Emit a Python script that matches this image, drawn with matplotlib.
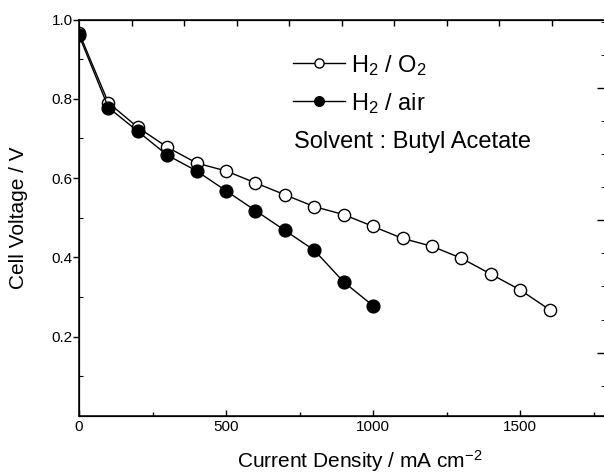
import matplotlib
matplotlib.use("Agg")
import matplotlib.pyplot as plt
from matplotlib.ticker import FixedLocator, NullFormatter

plt.rcParams["font.family"] = ["Liberation Sans", "DejaVu Sans"]
plt.rcParams["mathtext.fontset"] = "custom"
plt.rcParams["mathtext.rm"] = "Liberation Sans"
plt.rcParams["mathtext.it"] = "Liberation Sans:italic"
plt.rcParams["mathtext.bf"] = "Liberation Sans:bold"

# current density (mA cm-2) and cell voltage (V)
current_o2 = [0, 100, 200, 300, 400, 500, 600, 700, 800, 900, 1000,
              1100, 1200, 1300, 1400, 1500, 1600]
voltage_o2 = [0.967, 0.79, 0.728, 0.678, 0.638, 0.618, 0.588, 0.558, 0.528,
              0.508, 0.478, 0.448, 0.428, 0.398, 0.358, 0.318, 0.268]
current_air = [0, 100, 200, 300, 400, 500, 600, 700, 800, 900, 1000]
voltage_air = [0.96, 0.778, 0.718, 0.658, 0.618, 0.568, 0.518, 0.468,
               0.418, 0.338, 0.278]

x_major = [0, 500, 1000, 1500]
x_minor = [250, 750, 1250, 1750]
y_major = [0.2, 0.4, 0.6, 0.8, 1.0]
y_minor = [0.1, 0.3, 0.5, 0.7, 0.9]

fig = plt.figure(figsize=(6.04, 4.75), dpi=100)
ax = fig.add_axes([79 / 604, 59 / 475, 525 / 604, 396.5 / 475])

ax.plot(current_o2, voltage_o2, "-o", color="black", lw=1.0, ms=8.8,
        mfc="white", mec="black", mew=1.0, label=r"H$_2$ / O$_2$")
ax.plot(current_air, voltage_air, "-o", color="black", lw=1.0, ms=9.2,
        mfc="black", mec="black", mew=1.0, label=r"H$_2$ / air")

ax.set_xlim(0, 1785)
ax.set_ylim(0, 1.0)
ax.xaxis.set_major_locator(FixedLocator(x_major))
ax.xaxis.set_minor_locator(FixedLocator(x_minor))
ax.yaxis.set_major_locator(FixedLocator(y_major))
ax.yaxis.set_minor_locator(FixedLocator(y_minor))
ax.set_yticklabels([f"{v:.1f}" for v in y_major])

for s in ax.spines.values():
    s.set_linewidth(1.1)
ax.spines["right"].set_visible(False)

ax.tick_params(axis="x", which="both", direction="in", top=False,
               labelsize=11, pad=3, width=1.0)
ax.tick_params(axis="x", which="major", length=4)
ax.tick_params(axis="x", which="minor", length=3)
ax.tick_params(axis="y", which="major", direction="out", length=4,
               width=1.0, labelsize=11, pad=0.5, right=False)
ax.tick_params(axis="y", which="minor", direction="in", length=3,
               width=0.8, right=False)

# secondary tick marks on the top and right edges (unlabelled)
top = ax.twiny()
top.set_xlim(0, 10)
top.xaxis.set_major_locator(FixedLocator(list(range(1, 10))))
top.xaxis.set_major_formatter(NullFormatter())
top.tick_params(axis="x", direction="in", length=4, width=1.0)
top.spines["right"].set_visible(False)
right = ax.twinx()
right.set_ylim(-0.48, 2.52)
right.yaxis.set_major_locator(FixedLocator([0, 1, 2]))
right.yaxis.set_minor_locator(FixedLocator([-0.25, 0.25, 0.5, 0.75, 1.25,
                                            1.5, 1.75, 2.25, 2.5]))
right.yaxis.set_major_formatter(NullFormatter())
right.tick_params(axis="y", which="major", direction="in", length=5, width=1.0)
right.tick_params(axis="y", which="minor", direction="in", length=2, width=0.6)
right.spines["right"].set_visible(False)

ax.set_xlabel(r"Current Density / mA cm$^{-2}$", fontsize=15)
ax.xaxis.set_label_coords(0.535, -0.082)
ax.set_ylabel("Cell Voltage / V", fontsize=15)
ax.yaxis.set_label_coords(-0.098, 0.5)

leg = ax.legend(loc="upper left", bbox_to_anchor=(0.39, 0.94), frameon=False,
                fontsize=17, handlelength=2.2, handletextpad=0.25,
                labelspacing=0.55, markerscale=0.75, borderaxespad=0)
ax.text(0.41, 0.675, "Solvent : Butyl Acetate", transform=ax.transAxes,
        fontsize=17, va="baseline", ha="left")

fig.savefig("out.png", dpi=100)
